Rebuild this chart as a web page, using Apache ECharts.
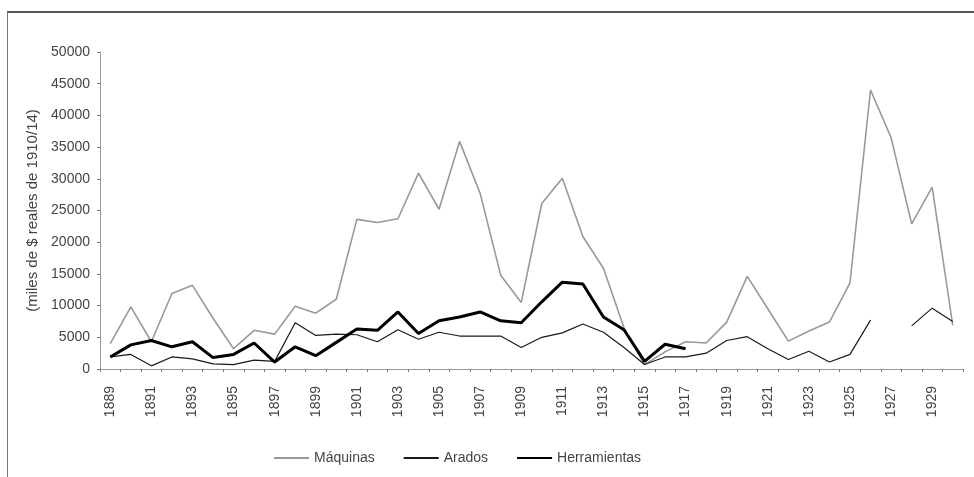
<!DOCTYPE html>
<html>
<head>
<meta charset="utf-8">
<script src="https://cdn.jsdelivr.net/npm/echarts@6/dist/echarts.min.js"></script>
<style>
  html, body { margin: 0; padding: 0; background: #fff; }
  #chart { width: 974px; height: 477px; }
  #frame { position: absolute; left: 7px; top: 11px; right: 0; bottom: 0;
    border-top: 2px solid #555; border-left: 1px solid #777; pointer-events: none; }
</style>
</head>
<body>
<div id="chart"></div>
<div id="frame"></div>
<script>
// años 1889-1930, miles de $ reales de 1910/14
const years = [];
for (let y = 1889; y <= 1930; y++) years.push(String(y));

const maquinas = [4000, 9800, 4300, 11900, 13200, 8000, 3200, 6100, 5500, 9900,
  8800, 11000, 23600, 23100, 23700, 30900, 25200, 35900, 27700, 14800,
  10500, 26100, 30100, 20900, 15900, 6500, 700, 2700, 4300, 4100,
  7400, 14600, 9500, 4400, 6000, 7400, 13600, 44000, 36500, 22900,
  28700, 6900];

const arados = [1900, 2300, 500, 1900, 1600, 800, 700, 1400, 1200, 7300,
  5300, 5500, 5400, 4300, 6200, 4700, 5800, 5200, 5200, 5200,
  3400, 5000, 5700, 7100, 5800, 3400, 700, 1900, 1900, 2500,
  4500, 5100, 3200, 1500, 2800, 1100, 2300, 7700, null, 6800,
  9600, 7500];

const herramientas = [1900, 3800, 4500, 3500, 4300, 1800, 2300, 4100, 1100, 3500,
  2100, 4200, 6300, 6100, 9000, 5600, 7600, 8200, 9000, 7600,
  7300, 10600, 13700, 13400, 8200, 6200, 1200, 3900, 3200, null,
  null, null, null, null, null, null, null, null, null, null,
  null, null];

const FONT = "Liberation Sans";
const chart = echarts.init(document.getElementById("chart"), null, { renderer: "canvas" });

const line = (name, data, color, width) => ({
  name, type: "line", data, symbol: "none", connectNulls: false,
  lineStyle: { color, width }, itemStyle: { color }, animation: false,
});

chart.setOption({
  backgroundColor: "#fff",
  textStyle: { fontFamily: FONT },
  grid: { left: 100, right: 11, top: 52, bottom: 108 },
  legend: {
    left: 268, top: 446, itemWidth: 35, itemHeight: 14, itemGap: 28,
    itemStyle: { opacity: 0 },
    textStyle: { color: "#444", fontSize: 14, fontFamily: FONT },
    data: ["Máquinas", "Arados", "Herramientas"],
  },
  xAxis: {
    type: "category", data: years, boundaryGap: true,
    axisLine: { lineStyle: { color: "#999", width: 1 } },
    axisTick: { show: true, length: 3, interval: 0, lineStyle: { color: "#777" } },
    axisLabel: { interval: 1, rotate: 90, margin: 17, color: "#444", fontSize: 14, fontFamily: FONT },
    splitLine: { show: false },
  },
  yAxis: {
    type: "value", min: 0, max: 50000, interval: 5000,
    name: "(miles de $ reales de 1910/14)", nameLocation: "middle", nameGap: 60,
    nameTextStyle: { color: "#444", fontSize: 15, fontFamily: FONT },
    axisLine: { show: true, lineStyle: { color: "#999", width: 1 } },
    axisTick: { show: true, length: 3, lineStyle: { color: "#777" } },
    axisLabel: { margin: 10, color: "#444", fontSize: 14, fontFamily: FONT, formatter: (v) => String(v) },
    splitLine: { show: false },
  },
  series: [
    line("Máquinas", maquinas, "#999999", 1.6),
    line("Arados", arados, "#1a1a1a", 1.2),
    line("Herramientas", herramientas, "#000", 3),
  ],
});
window.addEventListener("resize", () => chart.resize());
</script>
</body>
</html>
